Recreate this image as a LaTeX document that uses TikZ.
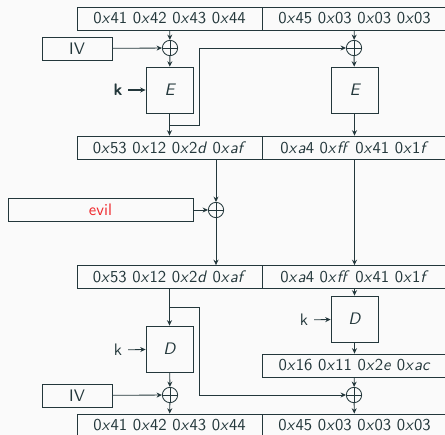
\documentclass[tikz,border=0pt]{standalone}
\usepackage{fontspec}
\renewcommand{\familydefault}{\sfdefault}
\usetikzlibrary{arrows.meta}
\definecolor{fg}{HTML}{23373B}
\definecolor{bg}{HTML}{FAFAFA}
\definecolor{evilred}{HTML}{F0282D}
\newcommand{\hx}[1]{0\textit{x}#1}
\tikzset{
  blk/.style={draw=fg,text=fg,minimum width=111pt,minimum height=13.8pt,inner sep=0pt},
  ivbox/.style={draw=fg,text=fg,minimum width=42pt,minimum height=13.8pt,inner sep=0pt},
  cipher/.style={draw=fg,text=fg,minimum width=28.2pt,minimum height=27.6pt,inner sep=0pt,font=\itshape},
  xorop/.style={draw=fg,circle,minimum size=9.2pt,inner sep=0pt,
    path picture={\draw[fg] (path picture bounding box.north) -- (path picture bounding box.south)
      (path picture bounding box.west) -- (path picture bounding box.east);}},
}
\begin{document}
\begin{tikzpicture}[x=0.6pt,y=-0.6pt,line width=0.5pt,fg,>={Stealth[length=3.2pt,width=3pt]}]
\fill[bg] (0,0) rectangle (445,435);
\useasboundingbox (0,0) rectangle (445,435);
% encryption
\draw (169.5,18.5) node[blk] (p1) {\hx{41} \hx{42} \hx{43} \hx{44}};
\draw (354.5,18.5) node[blk] (p2) {\hx{45} \hx{03} \hx{03} \hx{03}};
\draw (77,48.5) node[ivbox] (iv1) {IV};
\draw (170,48) node[xorop] (x1) {};
\draw (354,48) node[xorop] (x2) {};
\draw (169.5,90) node[cipher] (e1) {E};
\draw (354.5,90) node[cipher] (e2) {E};
\draw (118,90) node[text=fg] (k1) {\textbf{k}};
\draw (169.5,147.5) node[blk] (c1) {\hx{53} \hx{12} \hx{2\textit{d}} \hx{\textit{af}}};
\draw (354.5,147.5) node[blk] (c2) {\hx{\textit{a}4} \hx{\textit{ff}} \hx{41} \hx{1\textit{f}}};
\coordinate (b1) at (170,125);
\path[->] (p1) edge (x1);
\path[->] (iv1) edge (x1);
\path[->] (x1) edge (e1);
\path[->,line width=0.8pt] (k1) edge (e1);
\path[->] (e1) edge (c1);
\draw[->] (b1) -- (199,125) |- (x2);
\path[->] (p2) edge (x2);
\path[->] (x2) edge (e2);
\path[->] (e2) edge (c2);
% tampering
\draw (100.5,210) node[blk,text=evilred] (evil) {evil};
\draw (216,210) node[xorop] (x3) {};
\draw[->] (c1.south -| x3) -- (x3);
\path[->] (evil) edge (x3);
% decryption
\draw (169.5,277) node[blk] (c3) {\hx{53} \hx{12} \hx{2\textit{d}} \hx{\textit{af}}};
\draw (354.5,277) node[blk] (c4) {\hx{\textit{a}4} \hx{\textit{ff}} \hx{41} \hx{1\textit{f}}};
\draw[->] (x3) -- (x3 |- c3.north);
\draw[->] (c2) -- (c4);
\draw (169.5,349) node[cipher] (d1) {D};
\draw (354.5,319) node[cipher] (d2) {D};
\draw (118,350) node[text=fg] (k2) {k};
\draw (304,320) node[text=fg] (k3) {k};
\draw (354.5,365.5) node[blk] (m2) {\hx{16} \hx{11} \hx{2\textit{e}} \hx{\textit{ac}}};
\draw (77,395.5) node[ivbox] (iv2) {IV};
\draw (170,395) node[xorop] (x4) {};
\draw (354,395) node[xorop] (x5) {};
\draw (169.5,425.5) node[blk] (p3) {\hx{41} \hx{42} \hx{43} \hx{44}};
\draw (354.5,425.5) node[blk] (p4) {\hx{45} \hx{03} \hx{03} \hx{03}};
\coordinate (b2) at (170,307);
\draw[->] (c3.south -| d1) -- (d1);
\path[->] (k2) edge (d1);
\path[->] (d1) edge (x4);
\path[->] (iv2) edge (x4);
\path[->] (x4) edge (p3);
\draw[->] (b2) -- (199,307) |- (x5);
\path[->] (c4) edge (d2);
\path[->] (k3) edge (d2);
\path[->] (d2) edge (m2);
\path[->] (m2) edge (x5);
\path[->] (x5) edge (p4);
\end{tikzpicture}
\end{document}
